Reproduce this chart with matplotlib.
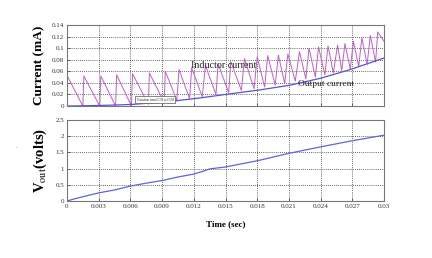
import matplotlib
matplotlib.use("Agg")
import matplotlib.pyplot as plt
import numpy as np

# time axis of both panels (s)
x_ticks = [0, 0.003, 0.006, 0.009, 0.012, 0.015, 0.018, 0.021, 0.024, 0.027, 0.03]
x_labels = ["0", "0.003", "0.006", "0.009", "0.012", "0.015", "0.018",
            "0.021", "0.024", "0.027", "0.03"]

# inductor current sawtooth: peaks and valleys (s, mA)
peak_t = [0.0, 0.0016, 0.0032, 0.0047, 0.0062, 0.0078, 0.0093, 0.0106, 0.0118,
          0.0131, 0.0143, 0.0155, 0.0168, 0.0180, 0.0190, 0.0200, 0.0209, 0.0220,
          0.0229, 0.0238, 0.0247, 0.0256, 0.0263, 0.0271, 0.0279, 0.0287, 0.0294]
peak_i = [0.053, 0.052, 0.052, 0.054, 0.056, 0.057, 0.060, 0.063, 0.066,
          0.070, 0.073, 0.077, 0.082, 0.085, 0.087, 0.088, 0.090, 0.094,
          0.100, 0.102, 0.104, 0.105, 0.108, 0.112, 0.118, 0.122, 0.128]
valley_t = [0.0015, 0.0031, 0.0046, 0.0061, 0.0077, 0.0092, 0.0104, 0.0116,
            0.0128, 0.0141, 0.0153, 0.0165, 0.0177, 0.0187, 0.0197, 0.0206,
            0.0216, 0.0226, 0.0235, 0.0244, 0.0252, 0.0260, 0.0268, 0.0276,
            0.0284, 0.0292]
valley_i = [0.0, 0.0, 0.0, 0.0, 0.003, 0.006, 0.010, 0.013, 0.016, 0.020,
            0.023, 0.027, 0.030, 0.033, 0.036, 0.039, 0.043, 0.047, 0.050,
            0.054, 0.057, 0.061, 0.064, 0.068, 0.072, 0.076]
end_t, end_i = 0.03, 0.112

# output current (s, mA)
out_t = [0.0, 0.0031, 0.0050, 0.0063, 0.0093, 0.0126, 0.0154, 0.0183, 0.0211, 0.0240, 0.0268, 0.03]
out_i = [0.0, 0.001, 0.002, 0.003, 0.007, 0.014, 0.021, 0.028, 0.036, 0.048, 0.063, 0.083]

# output voltage (s, V)
vout_t = [0.0, 0.001, 0.003, 0.0045, 0.006, 0.0075, 0.009, 0.0105, 0.012, 0.013,
          0.0135, 0.015, 0.018, 0.021, 0.024, 0.027, 0.03]
vout_v = [0.0, 0.09, 0.25, 0.34, 0.46, 0.55, 0.63, 0.74, 0.83, 0.93,
          0.99, 1.05, 1.24, 1.47, 1.67, 1.86, 2.03]

plt.rcParams["font.family"] = ["Liberation Serif", "DejaVu Serif"]
plt.rcParams["mathtext.fontset"] = "stix"

# interleave peaks and valleys into one waveform
ind_t, ind_i = [], []
for k in range(len(peak_t)):
    ind_t.append(peak_t[k]); ind_i.append(peak_i[k])
    if k < len(valley_t):
        ind_t.append(valley_t[k]); ind_i.append(valley_i[k])
ind_t.append(end_t); ind_i.append(end_i)

fig = plt.figure(figsize=(4.32, 2.58), dpi=100)
ax1 = fig.add_axes([0.155, 0.589, 0.734, 0.314])
ax2 = fig.add_axes([0.155, 0.221, 0.734, 0.314])

ax1.plot(ind_t, ind_i, color="#c45ccc", lw=0.7)
ax1.plot(out_t, out_i, color="#5454d4", lw=0.9)
ax2.plot(vout_t, vout_v, color="#6262dc", lw=0.9)

for ax in (ax1, ax2):
    ax.set_xlim(0, 0.03)
    ax.set_xticks(x_ticks)
    ax.grid(True, color="#333333", ls=(0, (1, 1.5)), lw=0.6)
    ax.tick_params(direction="in", length=2, width=0.5, labelsize=5,
                   colors="#333333", pad=2)
    for s in ax.spines.values():
        s.set_color("#777777")
        s.set_linewidth(0.8)

ax1.set_ylim(0, 0.14)
ax1.set_yticks([0, 0.02, 0.04, 0.06, 0.08, 0.1, 0.12, 0.14])
ax1.set_yticklabels(["0", "0.02", "0.04", "0.06", "0.08", "0.1", "0.12", "0.14"])
ax1.set_xticklabels([])

ax2.set_ylim(0, 2.5)
ax2.set_yticks([0, 0.5, 1, 1.5, 2, 2.5])
ax2.set_yticklabels(["0", "0.5", "1", "1.5", "2", "2.5"])
ax2.set_xticklabels(x_labels)

ax1.set_ylabel("Current (mA)", fontsize=9.5, fontweight="bold", labelpad=5)
ax2.set_ylabel(r"V$_{\mathrm{out}}$(volts)", fontsize=10.5, fontweight="bold", labelpad=5)
ax2.set_xlabel("Time (sec)", fontsize=6.5, fontweight="bold", labelpad=8)

ax1.text(0.0117, 0.066, "Inductor current", fontsize=7.2, color="#222222")
ax1.text(0.0219, 0.034, "Output current", fontsize=6.8, color="#222222")
ax1.text(0.0066, 0.0095, "Transition from DCM to CCM", fontsize=2.2, color="#222222",
         bbox=dict(boxstyle="square,pad=0.6", fc="white", ec="#555555", lw=0.5))

fig.text(0.035, 0.425, ".", fontsize=5, color="#555555")

fig.savefig("out.png", dpi=100)
